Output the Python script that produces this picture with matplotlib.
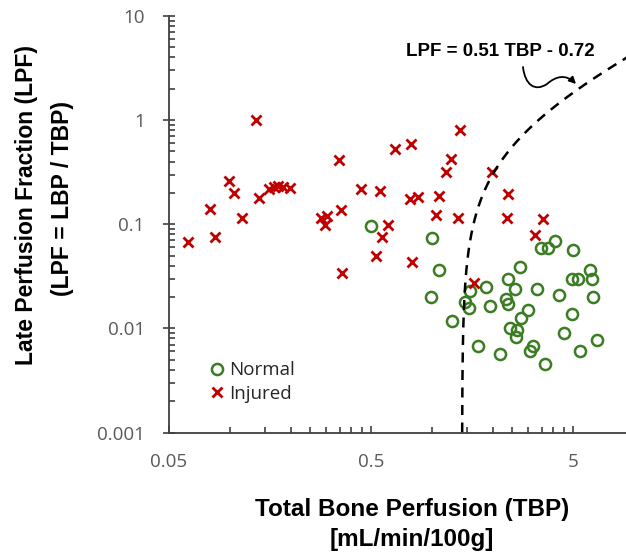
import matplotlib
matplotlib.use("Agg")
import matplotlib.pyplot as plt
import numpy as np
from matplotlib.patches import FancyArrowPatch
from matplotlib.path import Path
from matplotlib.ticker import FixedLocator, NullFormatter

# Normal group (TBP, LPF)
normal_tbp = [0.50, 1.00, 1.09, 0.99, 3.47, 3.77, 4.06, 5.00, 2.72, 6.07,
              2.39, 4.94, 5.31, 6.19, 1.86, 1.55, 2.58, 3.32, 4.28, 6.28,
              1.46, 1.52, 1.95, 2.33, 2.38, 2.99, 2.77, 4.97, 1.26, 2.43,
              2.63, 2.61, 4.53, 6.55, 1.70, 2.18, 3.16, 3.06, 5.39, 3.63]
normal_lpf = [0.096, 0.073, 0.036, 0.020, 0.059, 0.059, 0.069, 0.056, 0.039, 0.0365,
              0.030, 0.030, 0.030, 0.030, 0.025, 0.023, 0.024, 0.024, 0.021, 0.020,
              0.018, 0.0156, 0.0165, 0.019, 0.017, 0.015, 0.0125, 0.0137, 0.0118, 0.0101,
              0.0097, 0.0082, 0.0090, 0.0078, 0.0067, 0.0057, 0.0067, 0.0060, 0.0060, 0.0045]

# Injured group (TBP, LPF)
injured_tbp = [0.135, 0.099, 0.105, 0.140, 0.156, 0.165, 0.173, 0.184, 0.199, 0.080,
               0.115, 0.062, 0.084, 0.284, 0.303, 0.296, 0.355, 0.348, 1.38, 0.66,
               0.79, 1.25, 1.18, 0.446, 0.554, 0.78, 0.85, 1.08, 1.05, 1.35,
               0.605, 0.565, 0.53, 0.80, 0.358, 1.62, 1.99, 2.38, 2.37, 3.54, 3.24]
injured_lpf = [1.0, 0.26, 0.20, 0.178, 0.22, 0.23, 0.234, 0.228, 0.223, 0.140,
               0.115, 0.068, 0.076, 0.115, 0.119, 0.099, 0.137, 0.41, 0.81, 0.53,
               0.59, 0.42, 0.315, 0.218, 0.207, 0.175, 0.181, 0.185, 0.123, 0.116,
               0.099, 0.076, 0.050, 0.043, 0.034, 0.027, 0.318, 0.195, 0.115, 0.112, 0.078]

# threshold line LPF = 0.51 TBP - 0.72
slope = 0.51
intercept = -0.72

x_ticks = [0.05, 0.5, 5]
x_tick_labels = ["0.05", "0.5", "5"]
y_ticks = [0.001, 0.01, 0.1, 1, 10]
y_tick_labels = ["0.001", "0.01", "0.1", "1", "10"]

W, H = 626, 552
fig = plt.figure(figsize=(W / 100, H / 100), dpi=100)
ax = fig.add_axes([169 / W, 1 - 432.5 / H, 1 - 169 / W, (432.5 - 16) / H])

green = "#3A7D22"
red = "#C00000"
ax.plot(normal_tbp, normal_lpf, linestyle="none", marker="o", ms=8,
        mfc="none", mec=green, mew=1.8, label="Normal")
ax.plot(injured_tbp, injured_lpf, linestyle="none", marker="x", ms=7,
        mec=red, mew=2.0, label="Injured")

lpf_line = np.geomspace(0.001, 6, 300)
tbp_line = (lpf_line - intercept) / slope
ax.plot(tbp_line, lpf_line, color="black", lw=1.8, dashes=(4, 3))

ax.set_xscale("log")
ax.set_yscale("log")
ax.set_xlim(0.05, 9.15)
ax.set_ylim(0.001, 10)

ax.xaxis.set_major_locator(FixedLocator(x_ticks))
ax.set_xticklabels(x_tick_labels)
minor_x = [b * k for b in x_ticks for k in range(2, 10)]
ax.xaxis.set_minor_locator(FixedLocator(minor_x))
ax.xaxis.set_minor_formatter(NullFormatter())
ax.yaxis.set_major_locator(FixedLocator(y_ticks))
ax.set_yticklabels(y_tick_labels)
minor_y = [b * k for b in y_ticks[:-1] for k in range(2, 10)]
ax.yaxis.set_minor_locator(FixedLocator(minor_y))
ax.yaxis.set_minor_formatter(NullFormatter())

spine_col = "#404040"
for s in ["top", "right"]:
    ax.spines[s].set_visible(False)
for s in ["left", "bottom"]:
    ax.spines[s].set_color(spine_col)
    ax.spines[s].set_linewidth(1.3)

ax.tick_params(axis="x", which="major", direction="in", length=5, width=1.2,
               color=spine_col, pad=15)
ax.tick_params(axis="x", which="minor", direction="in", length=4, width=1.2,
               color=spine_col)
ax.tick_params(axis="y", which="major", direction="inout", length=9, width=1.2,
               color=spine_col, pad=13)
ax.tick_params(axis="y", which="minor", direction="in", length=4, width=1.2,
               color=spine_col)
for lab in ax.get_xticklabels() + ax.get_yticklabels():
    lab.set_fontfamily("Open Sans")
    lab.set_fontsize(13.5)
    lab.set_color("#595959")

ax.legend(loc="upper left", bbox_to_anchor=(202 / W, 1 - 352 / H),
          bbox_transform=fig.transFigure, frameon=False, handlelength=0.6,
          handletextpad=0.35, labelspacing=0.3, borderpad=0,
          prop=dict(family="Open Sans", size=13.5))
for t in ax.get_legend().get_texts():
    t.set_color("#262626")

lab_font = dict(family="Liberation Sans", weight="bold", color="black")
fig.text(412 / W, 1 - 516 / H, "Total Bone Perfusion (TBP)", ha="center",
         va="baseline", size=17.5, **lab_font)
fig.text(412 / W, 1 - 546 / H, "[mL/min/100g]", ha="center", va="baseline",
         size=17.5, **lab_font)
fig.text(27 / W, 1 - 205 / H, "Late Perfusion Fraction (LPF)", rotation=90,
         ha="center", va="center", size=16.5, **lab_font)
fig.text(63 / W, 1 - 198 / H, "(LPF = LBP / TBP)", rotation=90,
         ha="center", va="center", size=16.5, **lab_font)

fig.text(500 / W, 1 - 52 / H, "LPF = 0.51 TBP - 0.72", ha="center", va="center",
         family="Liberation Sans", weight="bold", size=13.5, color="black")

pts = [(523, 67), (525, 85), (535, 92), (547, 84),
       (556, 76), (566, 74), (576, 84)]
verts = [(x / W, 1 - y / H) for x, y in pts]
codes = [Path.MOVETO] + [Path.CURVE4] * 6
arrow = FancyArrowPatch(path=Path(verts, codes), arrowstyle="-|>",
                        mutation_scale=10, lw=1.3, color="black",
                        transform=fig.transFigure)
fig.add_artist(arrow)

fig.savefig("out.png", dpi=100)
